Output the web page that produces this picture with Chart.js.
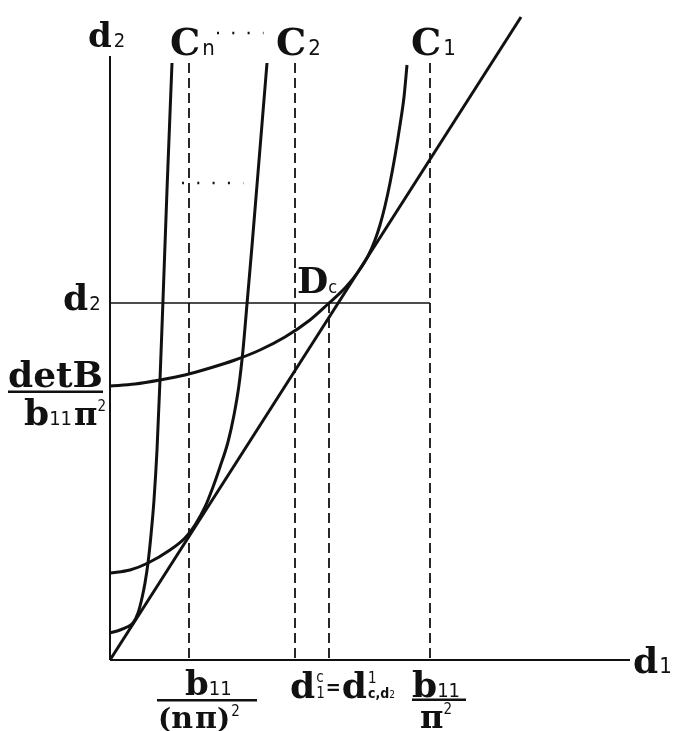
<!DOCTYPE html>
<html>
<head>
<meta charset="utf-8">
<script src="https://cdn.jsdelivr.net/npm/chart.js@4.4.0/dist/chart.umd.min.js"></script>
<style>
  body { margin: 0; background: #fff; }
  canvas { display: block; }
</style>
</head>
<body>
<canvas id="chart" width="677" height="731"></canvas>
<script>
const ink = "#111";
const SERIF = "'DejaVu Serif', serif";
const NARROW = "'Liberation Sans Narrow', 'DejaVu Sans Condensed', sans-serif";

// neutral curves, (d1, d2) pairs
const c1D1 = [0, 2.5, 5.0, 7.5, 10.0, 12.5, 15.0, 17.5, 20.0, 21.8, 23.5, 24.8, 25.8, 26.5, 27.0, 27.5, 28.0, 28.5, 29.0, 29.4, 29.7];
const c1D2 = [27.4, 27.6, 28.0, 28.5, 29.2, 30.0, 31.0, 32.3, 34.0, 35.6, 37.2, 38.8, 40.4, 42.0, 43.5, 45.4, 47.7, 50.4, 53.5, 56.3, 59.5];

const c2D1 = [0, 2.0, 3.8, 6.0, 7.5, 8.5, 9.5, 10.3, 11.0, 11.8, 12.4, 12.9, 13.3, 13.7, 14.2, 14.7, 15.2, 15.7];
const c2D2 = [8.7, 9.0, 9.7, 11.0, 12.2, 13.5, 15.3, 17.3, 19.3, 21.8, 24.5, 27.5, 31.0, 35.6, 41.4, 47.5, 53.6, 59.7];

const cnD1 = [0, 1.0, 1.7, 2.3, 2.8, 3.2, 3.5, 3.8, 4.1, 4.4, 4.7, 5.0, 5.3, 5.7, 6.2];
const cnD2 = [2.7, 3.0, 3.3, 3.7, 4.7, 6.2, 7.7, 9.7, 12.5, 16.0, 21.0, 28.0, 36.0, 47.0, 59.7];

// tangent line through the origin
const lineD1 = [0, 41.1];
const lineD2 = [0, 64.3];

// axes extent
const axisD1Max = 52;
const axisD2Max = 60.4;

// level d2 and the marked d1 values: b11/(n pi)^2, d1c, d1c,d2, b11/pi^2
const d2Level = 35.7;
const markD1 = [7.9, 18.5, 21.9, 32.0];
const markTop = [59.7, 59.7, 35.7, 59.7];

// dotted "..." runs
const dotsTopD1 = [10.7, 15.35];
const dotsTopD2 = 62.7;
const dotsMidD1 = [7.2, 13.35];
const dotsMidD2 = 47.7;

function pts(xs, ys) {
  return xs.map((x, i) => ({ x: x, y: ys[i] }));
}

function stroke(data, width, opts) {
  return Object.assign({
    data: data,
    showLine: true,
    borderColor: ink,
    borderWidth: width,
    pointRadius: 0,
    fill: false,
    clip: false,
    tension: 0
  }, opts || {});
}

const datasets = [
  stroke(pts([0, 0], [0, axisD2Max]), 2),
  stroke(pts([0, axisD1Max], [0, 0]), 2),
  stroke(pts(lineD1, lineD2), 3),
  stroke(pts([0, markD1[3]], [d2Level, d2Level]), 1.6),
  stroke(pts(c1D1, c1D2), 3, { cubicInterpolationMode: "monotone" }),
  stroke(pts(c2D1, c2D2), 3, { cubicInterpolationMode: "monotone" }),
  stroke(pts(cnD1, cnD2), 3, { cubicInterpolationMode: "monotone" }),
  stroke(pts(dotsTopD1, [dotsTopD2, dotsTopD2]), 2.4, { borderDash: [2, 13.3] }),
  stroke(pts(dotsMidD1, [dotsMidD2, dotsMidD2]), 2.4, { borderDash: [2, 13.3] })
];

markD1.forEach((d1, i) => {
  datasets.push(stroke(pts([d1, d1], [markTop[i], 0]), 1.8, { borderDash: [10, 5] }));
});

// writes a run of glyph pieces left to right from one baseline
function run(ctx, x, y, parts) {
  let cx = x;
  parts.forEach(p => {
    ctx.font = p.f;
    cx += p.dx || 0;
    ctx.fillText(p.t, cx, y + (p.dy || 0));
    cx += ctx.measureText(p.t).width;
  });
  return cx;
}

const labelPlugin = {
  id: "labels",
  afterDatasetsDraw(chart) {
    const ctx = chart.ctx;
    const X = v => chart.scales.x.getPixelForValue(v);
    const Y = v => chart.scales.y.getPixelForValue(v);
    const x0 = X(0), y0 = Y(0);
    ctx.save();
    ctx.fillStyle = ink;
    ctx.textBaseline = "alphabetic";

    // axis names
    run(ctx, x0 - 22, Y(axisD2Max) - 9, [
      { t: "d", f: "bold 34px " + SERIF },
      { t: "2", f: "20px " + NARROW, dx: 2 }
    ]);
    run(ctx, X(axisD1Max) + 3, y0 + 13, [
      { t: "d", f: "bold 36px " + SERIF },
      { t: "1", f: "22px " + NARROW, dx: 1 }
    ]);

    // curve names
    const cTop = [["n", markD1[0]], ["2", markD1[1]], ["1", markD1[3]]];
    cTop.forEach(([s, d1]) => {
      run(ctx, X(d1) - 19, 55, [
        { t: "C", f: "bold 38px " + SERIF },
        { t: s, f: "22px " + NARROW, dx: 2 }
      ]);
    });

    // d2 level
    run(ctx, 63, Y(d2Level) + 7, [
      { t: "d", f: "bold 36px " + SERIF },
      { t: "2", f: "20px " + NARROW, dx: 1 }
    ]);

    // detB / (b11 pi^2)
    ctx.font = "bold 36px " + SERIF;
    ctx.fillText("detB", 8, 387, 95);
    ctx.fillRect(8, 390.5, 95, 2.5);
    run(ctx, 24, 425, [
      { t: "b", f: "bold 36px " + SERIF },
      { t: "11", f: "20px " + NARROW },
      { t: "π", f: "bold 32px " + SERIF, dx: 2 },
      { t: "2", f: "15px " + NARROW, dy: -14 }
    ]);

    // Dc
    run(ctx, X(markD1[1]) + 2, Y(d2Level) - 10, [
      { t: "D", f: "bold 36px " + SERIF },
      { t: "c", f: "18px " + NARROW }
    ]);

    const yb = y0 + 35;

    // b11 / (n pi)^2
    run(ctx, X(markD1[0]) - 4, yb, [
      { t: "b", f: "bold 34px " + SERIF },
      { t: "11", f: "20px " + NARROW }
    ]);
    ctx.fillRect(X(markD1[0]) - 32, yb + 4, 100, 2.5);
    run(ctx, X(markD1[0]) - 31, 728, [
      { t: "(", f: "bold 28px " + SERIF },
      { t: "n", f: "bold 30px " + SERIF },
      { t: "π", f: "bold 30px " + SERIF, dx: 2 },
      { t: ")", f: "bold 28px " + SERIF },
      { t: "2", f: "15px " + NARROW, dx: 1, dy: -12 }
    ]);

    // d1c = d1c,d2
    let cx = run(ctx, X(markD1[1]) - 5, yb + 3, [{ t: "d", f: "bold 36px " + SERIF }]);
    run(ctx, cx + 1, yb - 13, [{ t: "c", f: "15px " + NARROW }]);
    cx = run(ctx, cx + 1, yb + 3, [{ t: "1", f: "15px " + NARROW }]);
    cx = run(ctx, cx + 1, yb - 1, [{ t: "=", f: "bold 20px " + NARROW }]);
    cx = run(ctx, cx + 1, yb + 3, [{ t: "d", f: "bold 36px " + SERIF }]);
    run(ctx, cx + 1, yb - 12, [{ t: "1", f: "15px " + NARROW }]);
    run(ctx, cx + 1, yb + 3, [
      { t: "c,d", f: "bold 14px " + NARROW },
      { t: "2", f: "10px " + NARROW }
    ]);

    // b11 / pi^2
    run(ctx, X(markD1[3]) - 18, yb + 2, [
      { t: "b", f: "bold 36px " + SERIF },
      { t: "11", f: "20px " + NARROW }
    ]);
    ctx.fillRect(X(markD1[3]) - 18, yb + 3.5, 54, 2.5);
    run(ctx, X(markD1[3]) - 10, 728, [
      { t: "π", f: "bold 32px " + SERIF },
      { t: "2", f: "15px " + NARROW, dy: -14 }
    ]);

    ctx.restore();
  }
};

new Chart(document.getElementById("chart"), {
  type: "scatter",
  data: { datasets: datasets },
  options: {
    responsive: false,
    animation: false,
    layout: { padding: { left: 110, right: 0, top: 10, bottom: 71 } },
    plugins: { legend: { display: false }, tooltip: { enabled: false } },
    scales: {
      x: { type: "linear", min: 0, max: 56.7, display: false },
      y: { type: "linear", min: 0, max: 65, display: false }
    }
  },
  plugins: [labelPlugin]
});
</script>
</body>
</html>
